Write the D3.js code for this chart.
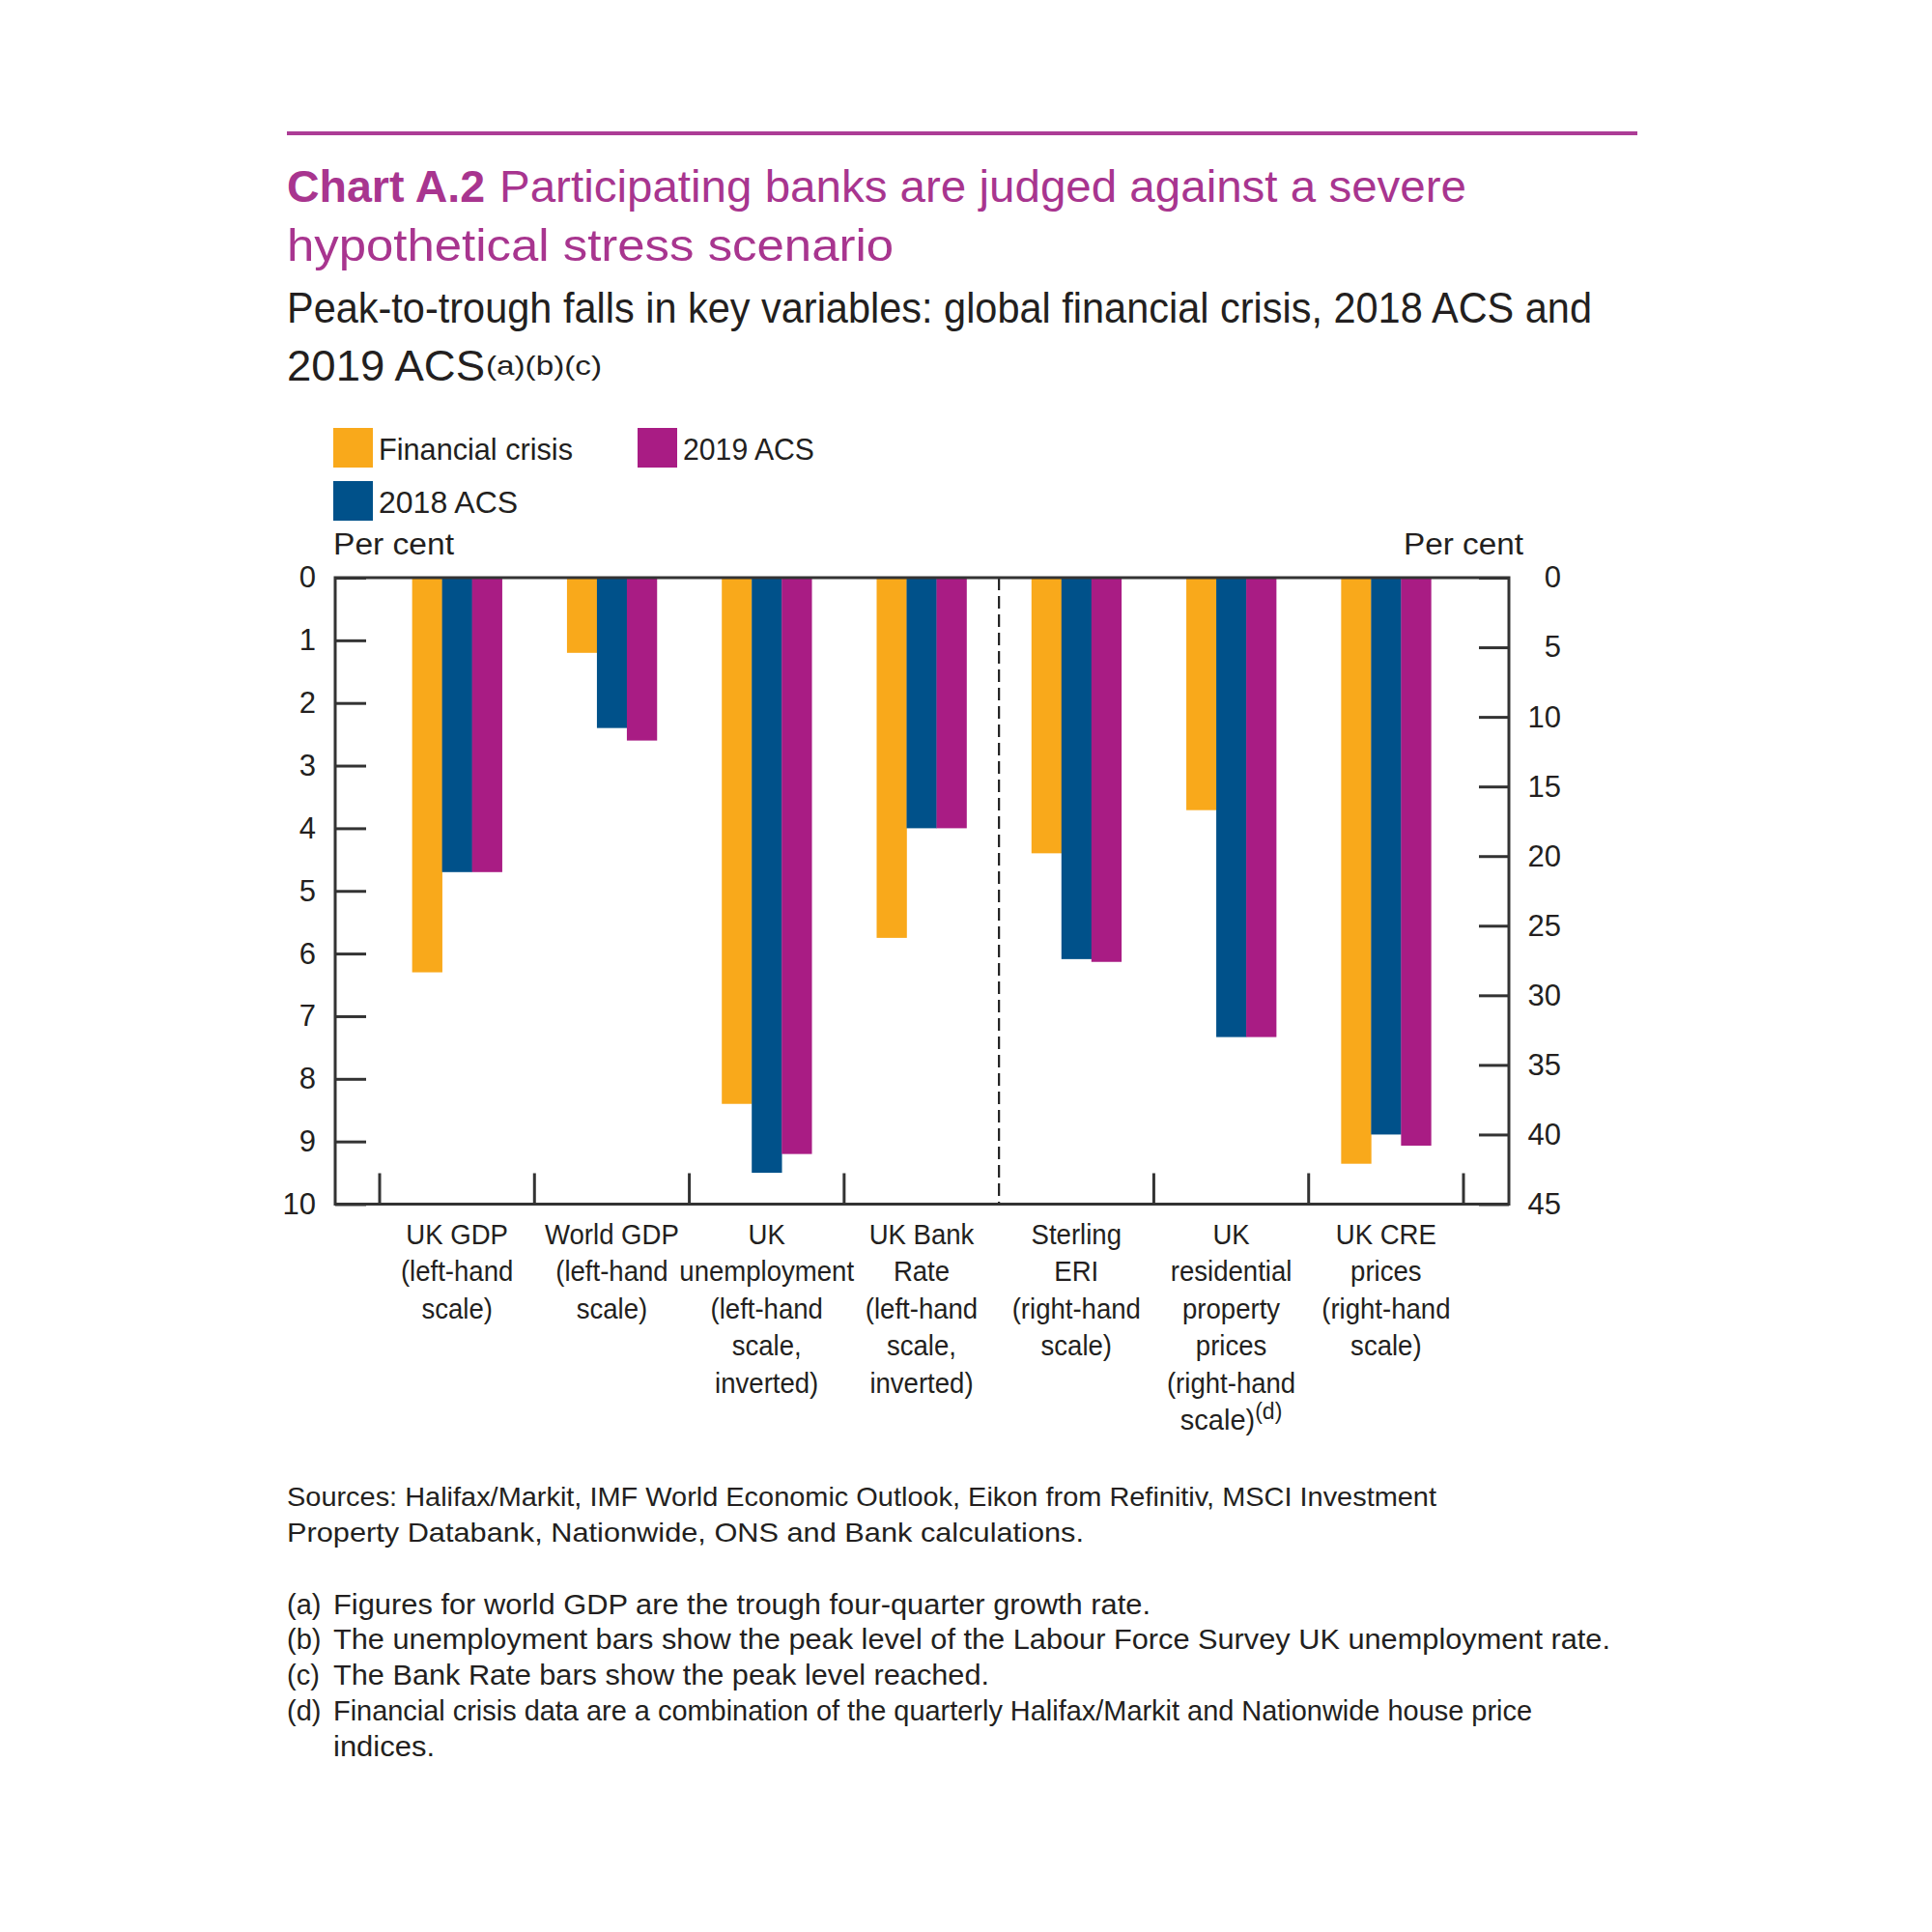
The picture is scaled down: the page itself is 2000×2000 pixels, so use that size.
<!DOCTYPE html>
<html><head><meta charset="utf-8">
<script src="https://cdn.jsdelivr.net/npm/d3@7"></script>
<style>body{margin:0;background:#fff}</style>
</head><body>
<script>
// ---------- DATA ----------
const categories = ["UK GDP","World GDP","UK unemployment","UK Bank Rate","Sterling ERI","UK residential property prices","UK CRE prices"];
const categoryLabelLines = [
  ["UK GDP","(left-hand","scale)"],
  ["World GDP","(left-hand","scale)"],
  ["UK","unemployment","(left-hand","scale,","inverted)"],
  ["UK Bank","Rate","(left-hand","scale,","inverted)"],
  ["Sterling","ERI","(right-hand","scale)"],
  ["UK","residential","property","prices","(right-hand","scale)"],
  ["UK CRE","prices","(right-hand","scale)"]
];
const categoryFootnote = [null,null,null,null,null,"(d)",null];
const scaleSide = ["left","left","left","left","right","right","right"];
const seriesNames = ["Financial crisis","2018 ACS","2019 ACS"];
const financialCrisis = [6.3, 1.2, 8.4, 5.75, 19.8, 16.7, 42.1];
const acs2018 = [4.7, 2.4, 9.5, 4.0, 27.4, 33.0, 40.0];
const acs2019 = [4.7, 2.6, 9.2, 4.0, 27.6, 33.0, 40.8];
const leftTicks = [0,1,2,3,4,5,6,7,8,9,10];
const rightTicks = [0,5,10,15,20,25,30,35,40,45];
const titleBold = "Chart A.2";
const titleRest1 = "Participating banks are judged against a severe";
const titleRest2 = "hypothetical stress scenario";
const subtitle1 = "Peak-to-trough falls in key variables: global financial crisis, 2018 ACS and";
const subtitle2 = "2019 ACS";
const subtitleNotes = "(a)(b)(c)";
const sources = ["Sources: Halifax/Markit, IMF World Economic Outlook, Eikon from Refinitiv, MSCI Investment",
                 "Property Databank, Nationwide, ONS and Bank calculations."];
const footnoteKeys = ["(a)","(b)","(c)","(d)",""];
const footnoteTexts = ["Figures for world GDP are the trough four-quarter growth rate.",
  "The unemployment bars show the peak level of the Labour Force Survey UK unemployment rate.",
  "The Bank Rate bars show the peak level reached.",
  "Financial crisis data are a combination of the quarterly Halifax/Markit and Nationwide house price",
  "indices."];

// ---------- STYLE ----------
const colors = {"Financial crisis":"#F9A91B","2018 ACS":"#00518A","2019 ACS":"#A91C84"};
const magenta = "#A8358F";
const ink = "#231F20";
const font = "'Liberation Sans', Arial, Helvetica, sans-serif";

const svg = d3.select("body").append("svg").attr("width",2000).attr("height",2000)
  .style("font-family", font);
svg.append("rect").attr("width",2000).attr("height",2000).attr("fill","#fff");

function fit(sel, w){
  const n = sel.node().getComputedTextLength();
  if (Math.abs(n - w) > 1) sel.attr("textLength", w).attr("lengthAdjust","spacingAndGlyphs");
  return sel;
}
function txt(x,y,s,size,opts={}){
  const t = svg.append("text").attr("x",x).attr("y",y).attr("font-size",size)
    .attr("fill",opts.fill||ink).attr("font-weight",opts.weight||"normal")
    .attr("text-anchor",opts.anchor||"start").text(s);
  if (opts.width) fit(t, opts.width);
  return t;
}

// ---------- HEADER ----------
svg.append("line").attr("x1",297).attr("x2",1695).attr("y1",138).attr("y2",138)
  .attr("stroke","#AC3C96").attr("stroke-width",4);
txt(297,209,titleBold,47,{fill:magenta,weight:"bold",width:205});
txt(517,209,titleRest1,47,{fill:magenta,width:1001});
txt(297,270,titleRest2,47,{fill:magenta,width:628});
txt(297,334,subtitle1,44,{width:1351});
txt(297,394,subtitle2,44,{width:205});
txt(503,388,subtitleNotes,28,{width:120});

// ---------- LEGEND ----------
const legendPos = [
  {name:"Financial crisis", x:345, y:443, w:201},
  {name:"2019 ACS", x:660, y:443, w:136},
  {name:"2018 ACS", x:345, y:498, w:145}
];
legendPos.forEach(d=>{
  svg.append("rect").attr("x",d.x).attr("y",d.y).attr("width",41).attr("height",41).attr("fill",colors[d.name]);
  txt(d.x+47, d.y+33, d.name, 32, {width:d.w});
});

// ---------- SCALES ----------
const plot = {left:347, right:1562, top:598, bottom:1246.5};
const x = d3.scaleBand().domain(categories).range([393, 1515]).paddingInner(0).paddingOuter(0);
const groupW = 93;
const xs = d3.scaleBand().domain(seriesNames).range([0, groupW]);
const yL = d3.scaleLinear().domain([0,10]).range([plot.top, plot.bottom]);
const yR = d3.scaleLinear().domain([0,45]).range([plot.top, plot.bottom]);

txt(345,574,"Per cent",31,{width:125});
txt(1577,574,"Per cent",31,{anchor:"end",width:124});

// ---------- BARS ----------
const seriesValues = {"Financial crisis":financialCrisis,"2018 ACS":acs2018,"2019 ACS":acs2019};
const rows = [];
categories.forEach((c,i)=>seriesNames.forEach(s=>rows.push({c, s, v:seriesValues[s][i], side:scaleSide[i]})));
svg.append("g").selectAll("rect").data(rows).join("rect")
  .attr("x", d => x(d.c) + (x.bandwidth()-groupW)/2 + xs(d.s))
  .attr("width", xs.bandwidth()+0.3)
  .attr("y", plot.top)
  .attr("height", d => (d.side==="left" ? yL(d.v) : yR(d.v)) - plot.top)
  .attr("fill", d => colors[d.s]);

// ---------- AXES ----------
const axL = svg.append("g").attr("transform",`translate(${plot.left},0)`)
  .call(d3.axisLeft(yL).tickValues(leftTicks).tickSizeInner(-32).tickSizeOuter(0).tickPadding(20).tickFormat(d3.format("d")));
const axR = svg.append("g").attr("transform",`translate(${plot.right},0)`)
  .call(d3.axisRight(yR).tickValues(rightTicks).tickSizeInner(-31).tickSizeOuter(0).tickPadding(54).tickFormat(d3.format("d")));
[axL, axR].forEach(a=>{
  a.select(".domain").remove();
  a.selectAll(".tick line").attr("stroke","#333").attr("stroke-width",3);
  a.selectAll(".tick text").attr("font-size",31).attr("font-family",font).attr("fill",ink);
});
axR.selectAll(".tick text").attr("text-anchor","end");

// category boundary ticks & dashed divider
const boundaries = categories.map(c=>x(c)).concat([x(categories[categories.length-1])+x.bandwidth()]);
const dividerIndex = scaleSide.indexOf("right");
boundaries.forEach((b,i)=>{
  if (i===dividerIndex) {
    svg.append("line").attr("x1",b).attr("x2",b).attr("y1",plot.top).attr("y2",plot.bottom)
      .attr("stroke","#222").attr("stroke-width",2.2).attr("stroke-dasharray","13,6");
  } else {
    svg.append("line").attr("x1",b).attr("x2",b).attr("y1",plot.bottom-32).attr("y2",plot.bottom)
      .attr("stroke","#333").attr("stroke-width",3);
  }
});

// frame
svg.append("rect").attr("x",plot.left).attr("y",plot.top)
  .attr("width",plot.right-plot.left).attr("height",plot.bottom-plot.top)
  .attr("fill","none").attr("stroke","#333").attr("stroke-width",3);

// category labels (slightly condensed like the original typeface)
categories.forEach((c,i)=>{
  const cx = x(c) + x.bandwidth()/2;
  categoryLabelLines[i].forEach((line,j)=>{
    const t = svg.append("text").attr("x",cx).attr("y",1288 + j*38.4)
      .attr("text-anchor","middle").attr("font-size",29).attr("fill",ink).text(line);
    if (j===categoryLabelLines[i].length-1 && categoryFootnote[i]) {
      t.append("tspan").attr("dy",-11).attr("font-size",23).text(categoryFootnote[i]);
    } else {
      const n = t.node().getComputedTextLength();
      t.attr("textLength", n*0.95).attr("lengthAdjust","spacingAndGlyphs");
    }
  });
});

// ---------- SOURCES & FOOTNOTES ----------
txt(297,1559,sources[0],28,{width:1190});
txt(297,1596,sources[1],28,{width:825});
const fnBase = [1670.5,1707,1744,1780.5,1817.5];
const fnWidths = [846,1322,679,1241,105];
footnoteKeys.forEach((k,i)=>{
  if (k) txt(297,fnBase[i],k,29);
  txt(345,fnBase[i],footnoteTexts[i],29,{width:fnWidths[i]});
});
</script>
</body></html>
